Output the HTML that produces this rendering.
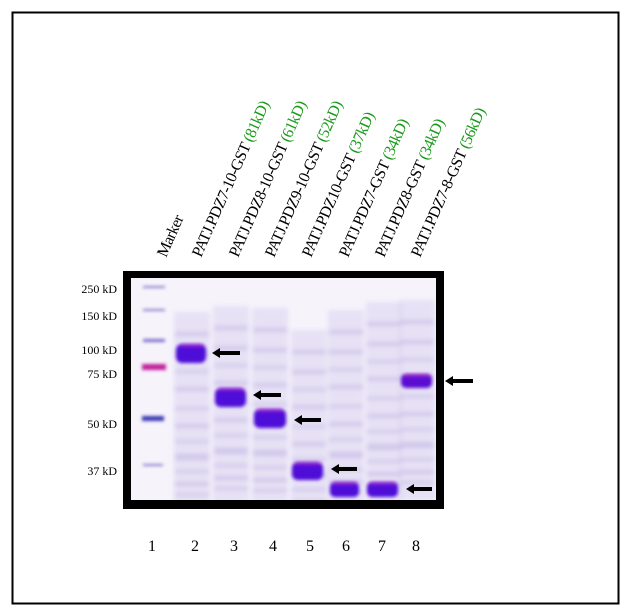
<!DOCTYPE html>
<html><head><meta charset="utf-8"><style>
html,body{margin:0;padding:0;background:#fff;}
svg{display:block;}
text{font-family:"Liberation Serif",serif;}
</style></head><body>
<svg width="631" height="614" viewBox="0 0 631 614" xmlns="http://www.w3.org/2000/svg">
<defs>
<filter id="b1" x="-30%" y="-60%" width="160%" height="220%"><feGaussianBlur stdDeviation="1.6"/></filter>
<filter id="b2" x="-30%" y="-30%" width="160%" height="160%"><feGaussianBlur stdDeviation="2.5"/></filter>
<clipPath id="gc"><rect x="131" y="278" width="305" height="222"/></clipPath>
<g id="smear">
<rect x="0" y="0" width="36" height="200" fill="#d4cbee" opacity="0.45"/>
<g fill="#b3a6dd" opacity="0.45">
<rect x="1" y="20" width="34" height="4"/><rect x="1" y="40" width="34" height="4"/><rect x="1" y="58" width="34" height="3"/>
<rect x="1" y="75" width="34" height="4"/><rect x="1" y="95" width="34" height="3"/><rect x="1" y="112" width="34" height="4"/>
<rect x="1" y="128" width="34" height="3"/><rect x="1" y="142" width="34" height="6"/><rect x="1" y="158" width="34" height="3"/>
<rect x="1" y="170" width="34" height="4"/><rect x="1" y="181" width="34" height="3"/>
</g>
</g>
</defs>
<rect x="12.5" y="12.5" width="606" height="591" fill="none" stroke="#000" stroke-width="2"/>

<rect x="123" y="271" width="321" height="238" fill="#000"/>
<rect x="131" y="278" width="305" height="222" fill="#f6f3fb"/>
<g clip-path="url(#gc)">
<g filter="url(#b2)">
<use href="#smear" x="174" y="312"/>
<use href="#smear" x="213" y="306"/>
<use href="#smear" x="252" y="308"/>
<use href="#smear" x="291" y="330"/>
<use href="#smear" x="328" y="310"/>
<use href="#smear" x="366" y="302"/>
<use href="#smear" x="399" y="300"/>
</g>
<g filter="url(#b1)">
<rect x="143" y="286" width="22" height="2" fill="#8a7cc8"/>
<rect x="143" y="309" width="22" height="2" fill="#8a7cc8"/>
<rect x="143" y="339" width="22" height="3" fill="#7a6cc8"/>
<rect x="142" y="364" width="24" height="6" fill="#c0209a"/>
<rect x="142" y="416" width="22" height="5" fill="#3a3ab0"/>
<rect x="143" y="464" width="20" height="2" fill="#8a7cc8"/>
</g>
<g filter="url(#b1)">
<rect x="176" y="344" width="30" height="19" rx="6" fill="#5010d8"/>
<rect x="215" y="388" width="31" height="19" rx="6" fill="#5010d8"/>
<rect x="254" y="409" width="32" height="19" rx="6" fill="#5010d8"/>
<rect x="292" y="462" width="31" height="18" rx="6" fill="#5010d8"/>
<rect x="330" y="482" width="29" height="15" rx="5" fill="#5010d8"/>
<rect x="367" y="482" width="31" height="15" rx="5" fill="#5010d8"/>
<rect x="401" y="374" width="31" height="14" rx="5" fill="#5a10d0"/>
</g>
<g fill="#ff40c0" opacity="0.35" filter="url(#b1)">
<rect x="180" y="344" width="24" height="3"/><rect x="218" y="388" width="26" height="3"/>
<rect x="257" y="409" width="26" height="3"/><rect x="295" y="462" width="26" height="3"/>
<rect x="333" y="482" width="24" height="3"/><rect x="370" y="482" width="26" height="3"/>
<rect x="404" y="374" width="26" height="3"/>
</g>
</g>
<g fill="#000">
<path d="M212 353 l8 -5 v3 h20 v4 h-20 v3 z"/>
<path d="M253 395 l8 -5 v3 h20 v4 h-20 v3 z"/>
<path d="M294 420 l8 -5 v3 h19 v4 h-19 v3 z"/>
<path d="M331 469 l8 -5 v3 h18 v4 h-18 v3 z"/>
<path d="M406 489 l8 -5 v3 h18 v4 h-18 v3 z"/>
<path d="M445 381 l8 -5 v3 h20 v4 h-20 v3 z"/>
</g>
<g font-size="12" text-anchor="end" fill="#000">
<text x="117" y="293">250 kD</text>
<text x="117" y="320">150 kD</text>
<text x="117" y="354">100 kD</text>
<text x="117" y="378">75 kD</text>
<text x="117" y="428">50 kD</text>
<text x="117" y="475">37 kD</text>
</g>
<g font-size="16" text-anchor="middle" fill="#000">
<text x="152" y="551">1</text><text x="195" y="551">2</text><text x="234" y="551">3</text>
<text x="273" y="551">4</text><text x="310" y="551">5</text><text x="346" y="551">6</text>
<text x="382" y="551">7</text><text x="416" y="551">8</text>
</g>
<g font-size="16" fill="#000" letter-spacing="-0.6">
<text transform="translate(166,258) rotate(-66)">Marker</text>
<text transform="translate(201,258) rotate(-66)">PATJ.PDZ7-10-GST <tspan fill="#1a9a1a">(81kD)</tspan></text>
<text transform="translate(238,258) rotate(-66)">PATJ.PDZ8-10-GST <tspan fill="#1a9a1a">(61kD)</tspan></text>
<text transform="translate(274,258) rotate(-66)">PATJ.PDZ9-10-GST <tspan fill="#1a9a1a">(52kD)</tspan></text>
<text transform="translate(311,258) rotate(-66)">PATJ.PDZ10-GST <tspan fill="#1a9a1a">(37kD)</tspan></text>
<text transform="translate(348,258) rotate(-66)">PATJ.PDZ7-GST <tspan fill="#1a9a1a">(34kD)</tspan></text>
<text transform="translate(384,258) rotate(-66)">PATJ.PDZ8-GST <tspan fill="#1a9a1a">(34kD)</tspan></text>
<text transform="translate(420,258) rotate(-66)">PATJ.PDZ7-8-GST <tspan fill="#1a9a1a">(56kD)</tspan></text>
</g>
</svg>
</body></html>
